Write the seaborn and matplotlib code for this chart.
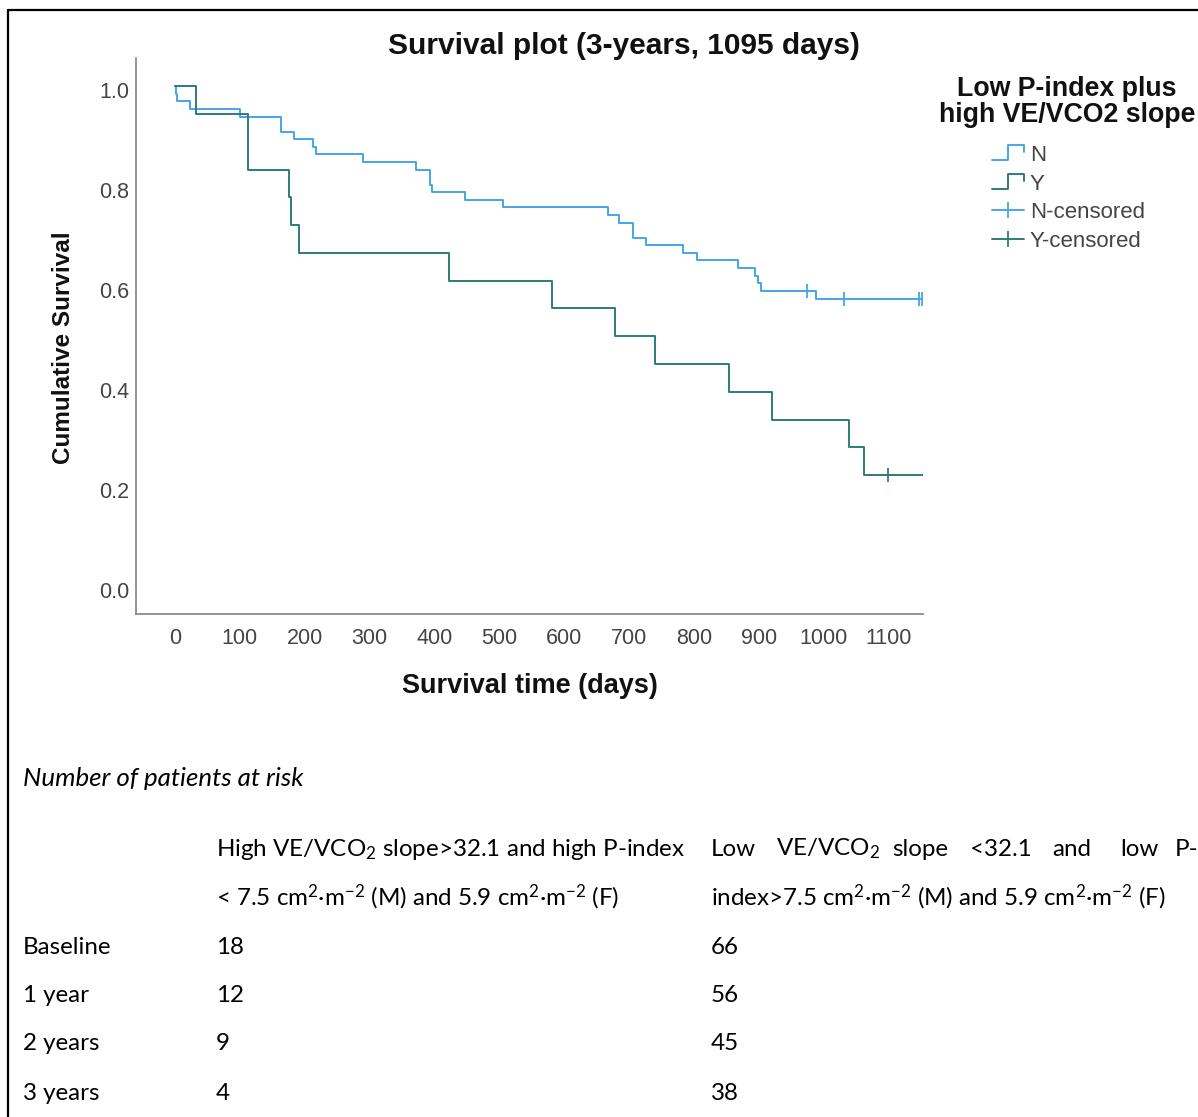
import matplotlib
matplotlib.use("Agg")
import matplotlib.pyplot as plt
import matplotlib.transforms as mtransforms
from matplotlib.lines import Line2D
from matplotlib.legend_handler import HandlerBase
import seaborn as sns
import pandas as pd

# ---------------- data ----------------
groups = ["N", "Y"]

n_times = [0, 1, 3, 24, 100, 163, 183, 213, 217, 290, 372, 394, 396, 448, 506,
           668, 685, 706, 726, 784, 805, 869, 894, 899, 904, 989, 1152]
n_surv = [1.0, 0.985, 0.970, 0.955, 0.939, 0.909, 0.894, 0.879, 0.864, 0.848,
          0.833, 0.803, 0.788, 0.773, 0.758, 0.742, 0.727, 0.697, 0.682, 0.667,
          0.652, 0.636, 0.621, 0.606, 0.591, 0.575, 0.575]
n_cens_times = [975, 1032, 1147, 1152]
n_cens_surv = [0.591, 0.575, 0.575, 0.575]

y_times = [0, 32, 113, 176, 179, 192, 422, 581, 678, 741, 855, 920, 1039, 1062, 1153]
y_surv = [1.0, 0.944, 0.833, 0.778, 0.722, 0.667, 0.611, 0.556, 0.500, 0.444,
          0.389, 0.333, 0.278, 0.222, 0.222]
y_cens_times = [1099]
y_cens_surv = [0.222]

x_ticks = [0, 100, 200, 300, 400, 500, 600, 700, 800, 900, 1000, 1100]
y_ticks = [0.0, 0.2, 0.4, 0.6, 0.8, 1.0]

legend_labels = ["N", "Y", "N-censored", "Y-censored"]

risk_rows = ["Baseline", "1 year", "2 years", "3 years"]
risk_high = ["18", "12", "9", "4"]
risk_low = ["66", "56", "45", "38"]

# ---------------- styling ----------------
sns.set_theme(style="white")
plt.rcParams["font.family"] = ["Liberation Sans", "DejaVu Sans"]
plt.rcParams["mathtext.fontset"] = "custom"
plt.rcParams["mathtext.rm"] = "Lato"
plt.rcParams["mathtext.it"] = "Lato:italic"
plt.rcParams["mathtext.bf"] = "Lato:bold"

C_N = "#45a5ea"
C_Y = "#2f7b78"
TICK_C = "#444444"
W, H = 1198, 1117

fig = plt.figure(figsize=(W / 100, H / 100), dpi=100)
fig.patch.set_facecolor("white")
ax = fig.add_axes([136 / W, 1 - 614 / H, (923 - 136) / W, (614 - 58) / H])

df = pd.concat([
    pd.DataFrame({"time": n_times, "surv": n_surv, "group": groups[0]}),
    pd.DataFrame({"time": y_times, "surv": y_surv, "group": groups[1]}),
], ignore_index=True)

sns.lineplot(data=df[df.group == "N"], x="time", y="surv", color=C_N, lw=1.4,
             drawstyle="steps-post", estimator=None, sort=False, ax=ax, legend=False)
sns.lineplot(data=df[df.group == "Y"], x="time", y="surv", color=C_Y, lw=1.4,
             drawstyle="steps-post", estimator=None, sort=False, ax=ax, legend=False)
sns.scatterplot(x=n_cens_times, y=n_cens_surv, marker="|", s=110, color=C_N,
                linewidth=1.3, ax=ax, legend=False, zorder=3)
sns.scatterplot(x=y_cens_times, y=y_cens_surv, marker="|", s=110, color=C_Y,
                linewidth=1.3, ax=ax, legend=False, zorder=3)

ax.set_xlim(-60, 1153.5)
ax.set_ylim(-0.056, 1.056)
ax.set_xticks(x_ticks)
ax.set_yticks(y_ticks)
ax.set_xticklabels([str(v) for v in x_ticks])
ax.set_yticklabels([f"{v:.1f}" for v in y_ticks])
ax.tick_params(axis="both", length=0, labelsize=15.5, labelcolor=TICK_C)
ax.tick_params(axis="x", pad=10)
ax.tick_params(axis="y", pad=5)
off = mtransforms.ScaledTranslation(0, -4 / 100, fig.dpi_scale_trans)
for lab in ax.get_yticklabels():
    lab.set_transform(lab.get_transform() + off)
for side in ["top", "right"]:
    ax.spines[side].set_visible(False)
for side in ["left", "bottom"]:
    ax.spines[side].set_color("#8c8c8c")
    ax.spines[side].set_linewidth(1.3)
ax.set_xlabel("")
ax.set_ylabel("")

fig.text(624 / W, 1 - 46 / H, "Survival plot (3-years, 1095 days)", ha="center",
         va="center", fontsize=21.5, fontweight="bold", color="#111111")
fig.text(530 / W, 1 - 686 / H, "Survival time (days)", ha="center", va="center",
         fontsize=19.5, fontweight="bold", color="#111111")
fig.text(63 / W, 1 - 348 / H, "Cumulative Survival", ha="center", va="center",
         rotation=90, fontsize=17.5, fontweight="bold", color="#111111")

# legend
class StepHandler(HandlerBase):
    def create_artists(self, legend, orig_handle, xdescent, ydescent, width,
                       height, fontsize, trans):
        x0, y0 = -xdescent, -ydescent
        xs = [x0, x0 + 0.5 * width, x0 + 0.5 * width, x0 + width, x0 + width]
        ys = [y0 + 0.05 * height, y0 + 0.05 * height, y0 + 1.0 * height,
              y0 + 1.0 * height, y0 + 0.55 * height]
        ln = Line2D(xs, ys, color=orig_handle.get_color(), lw=1.4, transform=trans)
        return [ln]

hN = Line2D([], [], color=C_N, lw=1.4)
hY = Line2D([], [], color=C_Y, lw=1.4)
hNc = Line2D([], [], color=C_N, lw=1.4, marker="|", markersize=12, mew=1.3)
hYc = Line2D([], [], color=C_Y, lw=1.4, marker="|", markersize=12, mew=1.3)
leg = ax.legend([hN, hY, hNc, hYc], legend_labels,
                handler_map={hN: StepHandler(), hY: StepHandler()},
                loc="upper left", bbox_to_anchor=(992 / W, 1 - 145 / H),
                bbox_transform=fig.transFigure, frameon=False, fontsize=16,
                handlelength=1.45, handletextpad=0.25, labelspacing=0.34,
                borderpad=0, borderaxespad=0, numpoints=1)
for t in leg.get_texts():
    t.set_color(TICK_C)
fig.text(1067 / W, 1 - 102 / H, "Low P-index plus\nhigh VE/VCO2 slope", ha="center",
         va="center", fontsize=19.3, fontweight="bold", color="#111111",
         linespacing=0.95)

# border of the original figure
fig.add_artist(Line2D([8 / W, 8 / W], [0, 1 - 10 / H], transform=fig.transFigure,
                      color="black", lw=1.6))
fig.add_artist(Line2D([8 / W, 1], [1 - 10 / H, 1 - 10 / H], transform=fig.transFigure,
                      color="black", lw=1.6))

# at-risk table
TF = ["Lato", "DejaVu Sans"]
TS = 17.4
fig.text(23 / W, 1 - 779 / H, "Number of patients at risk", ha="left", va="center",
         fontsize=18.6, style="italic", family=TF, color="black")
fig.text(216 / W, 1 - 849 / H, "High VE/VCO$_2$ slope>32.1 and high P-index",
         ha="left", va="center", fontsize=TS, family=TF, color="black")
fig.text(216 / W, 1 - 897 / H,
         "< 7.5 cm$^{2}$·m$^{-2}$ (M) and 5.9 cm$^{2}$·m$^{-2}$ (F)",
         ha="left", va="center", fontsize=TS, family=TF, color="black")
words = ["Low", "VE/VCO$_2$", "slope", "<32.1", "and", "low", "P-"]
word_x = [711, 776, 892, 970, 1052, 1120, 1175]
for wd, wx in zip(words, word_x):
    fig.text(wx / W, 1 - 849 / H, wd, ha="left", va="center", fontsize=TS,
             family=TF, color="black")
fig.text(711 / W, 1 - 897 / H,
         "index>7.5 cm$^{2}$·m$^{-2}$ (M) and 5.9 cm$^{2}$·m$^{-2}$ (F)",
         ha="left", va="center", fontsize=TS, family=TF, color="black")
row_y = [947, 996, 1044, 1093]
for lab, a, b, yy in zip(risk_rows, risk_high, risk_low, row_y):
    fig.text(23 / W, 1 - yy / H, lab, ha="left", va="center", fontsize=TS,
             family=TF, color="black")
    fig.text(216 / W, 1 - yy / H, a, ha="left", va="center", fontsize=TS,
             family=TF, color="black")
    fig.text(711 / W, 1 - yy / H, b, ha="left", va="center", fontsize=TS,
             family=TF, color="black")

fig.savefig("out.png", dpi=100, facecolor="white")
